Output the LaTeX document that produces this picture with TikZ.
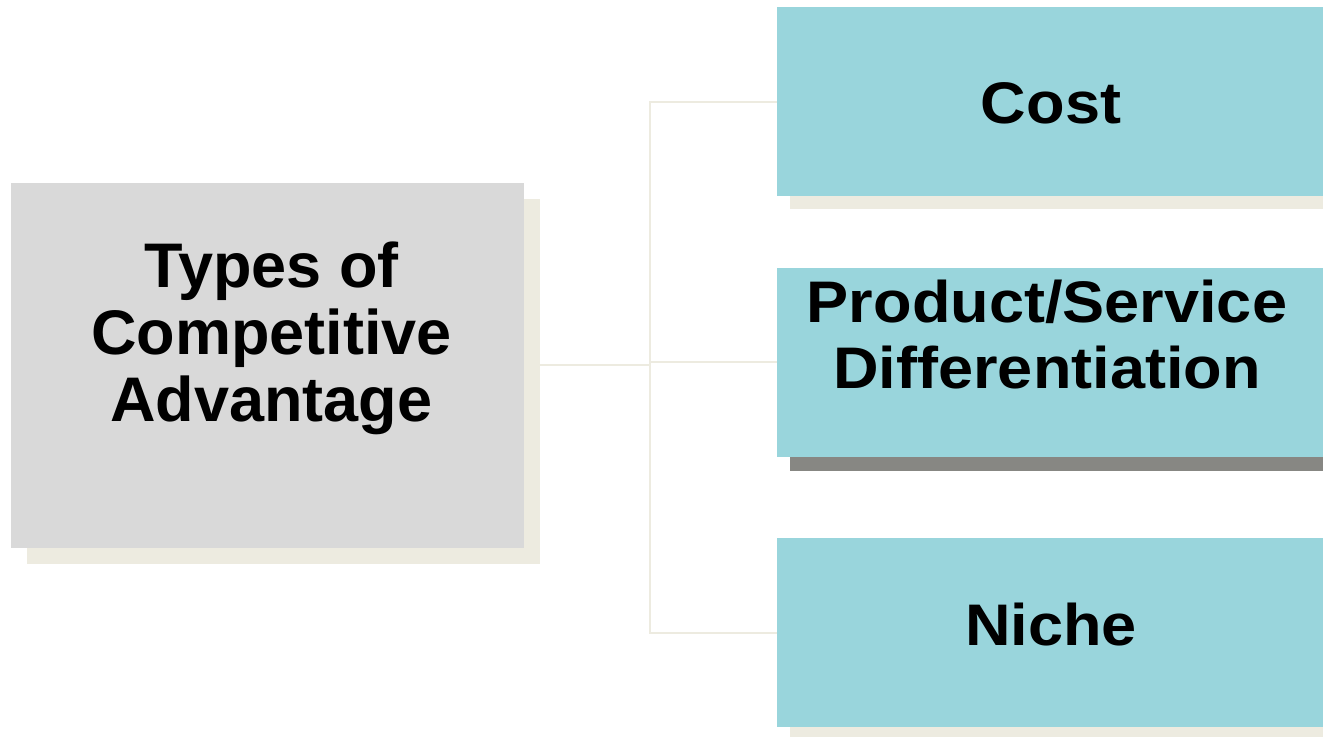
\documentclass[tikz,border=0pt]{standalone}
\usepackage{fontspec}
\setmainfont{Liberation Sans}
\newfontfamily\rfont[FakeStretch=1.075]{Liberation Sans}
\definecolor{tealbox}{HTML}{99D5DC}
\definecolor{graybox}{HTML}{D9D9D9}
\definecolor{beige}{HTML}{EDEBE0}
\definecolor{darksh}{HTML}{878783}
\tikzset{
  box/.style={rectangle, inner sep=0pt, outer sep=0pt, draw=none},
  mainbox/.style={box, fill=graybox, minimum width=384.75pt, minimum height=273.75pt},
  mainshadow/.style={box, fill=beige, minimum width=384.75pt, minimum height=273.75pt},
  rbox/.style={box, fill=tealbox, minimum width=409.5pt, minimum height=141.75pt},
  rshadow/.style={box, minimum width=399.75pt, minimum height=141.75pt},
  conn/.style={draw=beige, line width=1.5pt},
  ltxt/.style={inner sep=0pt, align=center, font=\fontsize{47.25pt}{50.25pt}\selectfont\bfseries},
  rtxt/.style={inner sep=0pt, align=center, font=\rfont\fontsize{44pt}{49.5pt}\selectfont\bfseries},
}
\begin{document}
\begin{tikzpicture}[x=0.75pt, y=-0.75pt]
\useasboundingbox (0,0) rectangle (1323,737);
% shadows
\node[mainshadow] (mainsh) at (283.5,381.5) {};
\node[rshadow, fill=beige] (costsh) at (1056.5,115) {};
\node[rshadow, fill=darksh] (prodsh) at (1056.5,376) {};
\node[rshadow, fill=beige] (nichesh) at (1056.5,646) {};
% boxes
\node[mainbox] (main) at (267.5,365.5) {};
\node[rbox] (cost) at (1050,102) {};
\node[rbox] (prod) at (1050,362.5) {};
\node[rbox] (niche) at (1050,632.5) {};
% connectors
\coordinate (j) at (650,365.5);
\draw[conn] (mainsh.east |- main.east) -- (j);
\draw[conn] (j) |- (cost.west);
\draw[conn] (j) |- (prod.west);
\draw[conn] (j) |- (niche.west);
% texts
\node[ltxt] (maintxt) at (271.5,338.5) {Types of\\Competitive\\Advantage};
\node[rtxt, anchor=base] (costtxt) at (1051,124) {Cost};
\node[rtxt] (prodtxt) at (1047,335) {Product/Service\\Differentiation};
\node[rtxt, anchor=base] (nichetxt) at (1051,645.7) {Niche};
\end{tikzpicture}
\end{document}
